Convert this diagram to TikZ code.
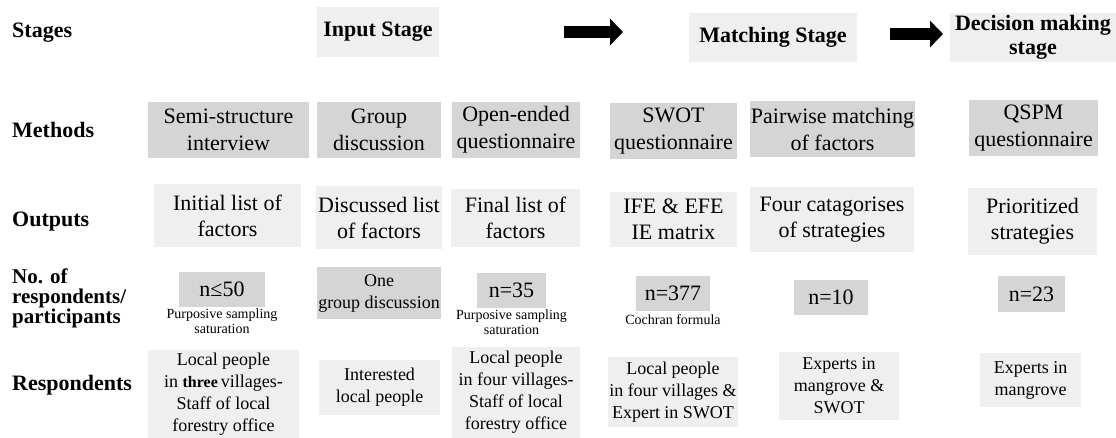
\documentclass[tikz,border=0pt]{standalone}
\usepackage{fontspec}
\setmainfont{Liberation Serif}
\usepackage{tikz}
\usetikzlibrary{arrows.meta, positioning}

\definecolor{lightbox}{HTML}{EFEFEF}
\definecolor{darkbox}{HTML}{D5D5D5}

\begin{document}
\begin{tikzpicture}[x=1pt, y=-1pt,
        row_label/.style = {
            anchor=west,
            inner sep=0pt,
            align=left,
            font=\bfseries\fontsize{22}{18}\selectfont
        },
        stage/.style = {
            rectangle,
            fill=lightbox,
            inner sep=0pt,
            align=center,
            font=\bfseries\fontsize{22}{24}\selectfont
        },
        method/.style = {
            rectangle,
            fill=darkbox,
            inner sep=0pt,
            align=center,
            minimum height=56pt,
            font=\fontsize{22}{27}\selectfont
        },
        output/.style = {
            rectangle,
            fill=lightbox,
            inner sep=0pt,
            align=center,
            font=\fontsize{22}{26}\selectfont
        },
        count/.style = {
            rectangle,
            fill=darkbox,
            inner sep=0pt,
            align=center,
            minimum height=35pt,
            font=\fontsize{22}{26}\selectfont
        },
        note/.style = {
            inner sep=0pt,
            align=center,
            font=\fontsize{14}{15}\selectfont
        },
        resp/.style = {
            rectangle,
            fill=lightbox,
            inner sep=0pt,
            align=center,
            font=\fontsize{18}{22}\selectfont
        },
        stage_arrow/.style = {
            line width=12pt,
            -{Triangle[length=13pt, width=26pt]}
        }
        ]

        \useasboundingbox (0,0) rectangle (1116,438);

        \node (lbl_stages) [row_label] at (12,33) {Stages};
        \node (lbl_methods) [row_label] at (12,130) {Methods};
        \node (lbl_outputs) [row_label] at (12,222) {Outputs};
        \node (lbl_number) [row_label, font=\bfseries\fontsize{21}{20}\selectfont] at (12,298) {No. of\\respondents/\\participants};
        \node (lbl_resp) [row_label] at (12,385) {Respondents};

        \node (input_stage) [stage, minimum width=122pt, minimum height=50pt] at (378,32) {Input Stage};
        \node (matching_stage) [stage, minimum width=168pt, minimum height=49pt] at (773,37.5) {Matching Stage};
        \node (decision_stage) [stage, minimum width=166pt, minimum height=49pt] at (1033,37.5) {Decision making\\stage};

        \coordinate (arrow1_start) at (564,32);
        \coordinate (arrow1_end) at (623,32);
        \coordinate (arrow2_start) at (890,34);
        \coordinate (arrow2_end) at (943,34);
        \draw[stage_arrow] (arrow1_start) -- (arrow1_end);
        \draw[stage_arrow] (arrow2_start) -- (arrow2_end);

        \node (semi_interview) [method, minimum width=161pt] at (228.5,130) {Semi-structure\\interview};
        \node (group_disc) [method, minimum width=124pt] at (379,130) {Group\\discussion};
        \node (open_quest) [method, minimum width=128pt] at (516,130) {Open-ended\\questionnaire};
        \node (swot_quest) [method, minimum width=127pt] at (673.5,131) {SWOT\\questionnaire};
        \node (pairwise) [method, minimum width=165pt] at (832.5,129.5) {Pairwise matching\\of factors};
        \node (qspm_quest) [method, minimum width=129pt] at (1033.5,128.5) {QSPM\\questionnaire};

        \node (initial_list) [output, minimum width=147pt, minimum height=63pt] at (227.5,215.5) {Initial list of\\factors};
        \node (discussed_list) [output, minimum width=126pt, minimum height=63pt] at (379,217.5) {Discussed list\\of factors};
        \node (final_list) [output, minimum width=129pt, minimum height=58pt] at (515.5,218) {Final list of\\factors};
        \node (ife_efe) [output, minimum width=127pt, minimum height=55pt] at (673.5,219.5) {IFE \& EFE\\IE matrix};
        \node (four_cat) [output, minimum width=164pt, minimum height=65pt] at (832,219.5) {Four catagorises\\of strategies};
        \node (prioritized) [output, minimum width=129pt, minimum height=67pt] at (1032.5,221.5) {Prioritized\\strategies};

        \node (n_50) [count, minimum width=86pt] at (222,289.5) {n≤50};
        \node (note_50) [note, below=1pt of n_50] {Purposive sampling\\saturation};
        \node (one_group) [count, minimum width=124pt, minimum height=52pt, font=\fontsize{18}{22}\selectfont] at (379,293) {One\\group discussion};
        \node (n_35) [count, minimum width=69pt] at (511.5,290.5) {n=35};
        \node (note_35) [note, below=1pt of n_35] {Purposive sampling\\saturation};
        \node (n_377) [count, minimum width=74pt] at (673,293.5) {n=377};
        \node (note_377) [note, below=3pt of n_377] {Cochran formula};
        \node (n_10) [count, minimum width=74pt] at (831,297.5) {n=10};
        \node (n_23) [count, minimum width=67pt] at (1031.5,294) {n=23};

        \node (resp_three) [resp, minimum width=151pt, minimum height=88pt] at (223.5,394) {Local people\\in {\fontsize{16}{22}\selectfont\bfseries three}\,villages-\\Staff of local\\forestry office};
        \node (resp_interested) [resp, minimum width=121pt, minimum height=55pt] at (379.5,387.5) {Interested\\local people};
        \node (resp_four) [resp, minimum width=128pt, minimum height=91pt] at (516,392.5) {Local people\\in four villages-\\Staff of local\\forestry office};
        \node (resp_swot) [resp, minimum width=130pt, minimum height=70pt] at (673,392) {Local people\\in four villages \&\\Expert in SWOT};
        \node (resp_experts_swot) [resp, minimum width=120pt, minimum height=68pt] at (839,386) {Experts in\\mangrove \&\\SWOT};
        \node (resp_experts) [resp, minimum width=101pt, minimum height=54pt] at (1030.5,380) {Experts in\\mangrove};

    \end{tikzpicture}
\end{document}
